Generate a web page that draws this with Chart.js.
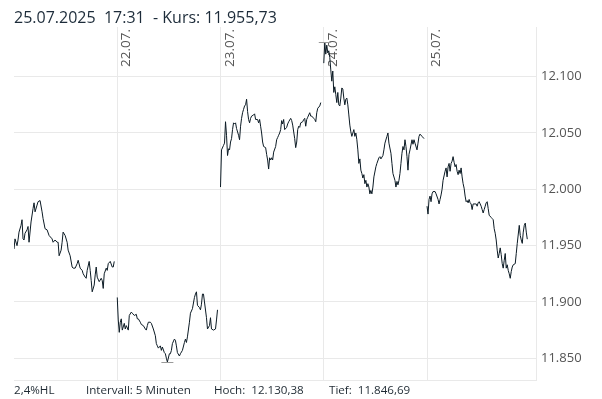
<!DOCTYPE html>
<html>
<head>
<meta charset="utf-8">
<script src="https://cdn.jsdelivr.net/npm/chart.js@4/dist/chart.umd.min.js"></script>
<style>
  html, body { margin: 0; padding: 0; background: #fff; }
  #wrap { position: relative; width: 602px; height: 399px; overflow: hidden; }
  #chart { position: absolute; left: 0; top: 0; }
  .txt { position: absolute; white-space: pre; font-family: "Open Sans", sans-serif; }
  #title { left: 14px; top: 7px; font-size: 16px; line-height: 20px; color: #1c2b39; }
  .foot { top: 383px; font-size: 11.6px; line-height: 14px; color: #1f2a33; }
</style>
</head>
<body>
<div id="wrap">
  <canvas id="chart" width="602" height="399"></canvas>
  <div id="title" class="txt"></div>
  <div id="f1" class="txt foot" style="left:14px"></div>
  <div id="f2" class="txt foot" style="left:86px"></div>
  <div id="f3" class="txt foot" style="left:214px"></div>
  <div id="f4" class="txt foot" style="left:329px"></div>
</div>
<script>
// header / footer values
const datum = "25.07.2025";
const zeit = "17:31";
const kurs = 11955.73;
const hoch = 12130.38;
const tief = 11846.69;
const spanne = "2,4%HL";
const intervall = "Intervall: 5 Minuten";

// day labels (one trading day = 103 five-minute bars on the axis)
const dayLabels = ["21.07.", "22.07.", "23.07.", "24.07.", "25.07."];
const barsPerDay = 103;
const yTicks = [11850, 11900, 11950, 12000, 12050, 12100];
const yMin = 11830.7;
const yMax = 12144.1;

// [bar within day, value]
const day1 = [[0,11947],[1,11956],[3,11950],[4,11955],[5,11962],[7,11968],[8,11973],[9,11956],[10,11955],
  [11,11961],[13,11964],[14,11967],[15,11953],[17,11971],[19,11983],[20,11988],[21,11980],[23,11986],
  [24,11989],[26,11990],[28,11980],[29,11974],[31,11965],[33,11964],[35,11959],[38,11956],[39,11953],
  [41,11955],[43,11953],[44,11953],[45,11941],[47,11946],[48,11953],[49,11962],[51,11959],[53,11953],
  [54,11946],[56,11941],[58,11931],[59,11930],[61,11930],[63,11934],[64,11937],[66,11930],[68,11928],
  [69,11925],[71,11922],[72,11921],[73,11928],[75,11936],[76,11928],[77,11919],[78,11909],[80,11915],
  [81,11924],[82,11931],[83,11922],[85,11918],[87,11921],[88,11919],[89,11912],[90,11925],[92,11930],
  [93,11928],[94,11934],[96,11936],[98,11931],[99,11931],[100,11936]];

const day2 = [[0,11904],[1,11884],[2,11873],[3,11882],[4,11885],[5,11875],[7,11881],[8,11876],[9,11879],
  [11,11875],[12,11888],[14,11891],[15,11890],[17,11888],[19,11889],[20,11885],[21,11885],[23,11882],
  [24,11880],[26,11879],[28,11876],[29,11875],[30,11879],[31,11882],[33,11882],[34,11881],[36,11876],
  [38,11870],[39,11863],[40,11861],[41,11859],[43,11861],[44,11857],[45,11860],[47,11855],[48,11854],
  [49,11850],[50,11846.69],[52,11854],[53,11854],[54,11857],[55,11863],[57,11867],[58,11866],[59,11861],
  [60,11855],[62,11852],[63,11854],[65,11857],[67,11864],[68,11867],[69,11864],[70,11869],[72,11882],
  [73,11890],[75,11894],[77,11904],[78,11907],[79,11909],[80,11897],[82,11895],[83,11893],[84,11898],
  [85,11907],[86,11907],[87,11900],[89,11886],[90,11876],[92,11879],[93,11886],[94,11876],[96,11875],
  [98,11876],[99,11884],[100,11893]];

const day3 = [[0,12002],[1,12035],[3,12039],[4,12041],[5,12060],[6,12048],[7,12030],[8,12036],[9,12035],
  [10,12042],[11,12045],[12,12053],[13,12059],[14,12058],[15,12059],[16,12054],[18,12048],[19,12044],
  [20,12056],[21,12063],[22,12068],[23,12071],[24,12074],[25,12075],[26,12080],[27,12069],[28,12062],
  [29,12059],[30,12063],[31,12065],[33,12066],[34,12067],[35,12062],[37,12062],[38,12059],[39,12062],
  [40,12056],[41,12050],[42,12042],[43,12038],[45,12037],[46,12031],[47,12026],[48,12018],[49,12028],
  [50,12026],[51,12028],[52,12026],[53,12033],[55,12038],[56,12044],[57,12046],[58,12048],[59,12050],
  [60,12053],[61,12061],[62,12058],[63,12062],[64,12053],[66,12055],[67,12058],[68,12060],[70,12063],
  [71,12061],[72,12057],[74,12045],[75,12037],[76,12042],[77,12053],[78,12056],[79,12055],[80,12059],
  [82,12060],[83,12062],[84,12063],[85,12056],[86,12062],[87,12064],[89,12068],[90,12065],[91,12065],
  [93,12063],[94,12062],[95,12060],[96,12068],[97,12072],[99,12074],[100,12077]];

const day4 = [[0,12112],[1,12130.38],[2,12120],[3,12128],[4,12121],[5,12123],[6,12117],[7,12106],[8,12096],
  [9,12105],[10,12086],[11,12091],[12,12084],[13,12077],[14,12086],[15,12075],[16,12074],[17,12081],
  [18,12090],[19,12089],[20,12081],[21,12075],[22,12080],[23,12081],[24,12075],[25,12066],[26,12057],
  [27,12051],[28,12047],[29,12050],[30,12053],[31,12047],[32,12050],[33,12044],[34,12035],[35,12023],
  [36,12027],[37,12017],[38,12014],[39,12010],[40,12013],[41,12005],[42,12008],[43,12002],[44,12005],
  [45,12002],[46,11996],[47,11999],[48,11996],[49,12002],[50,12011],[52,12020],[53,12023],[55,12028],
  [56,12029],[57,12027],[59,12030],[60,12035],[61,12041],[63,12047],[64,12050],[65,12041],[67,12032],
  [68,12023],[69,12014],[71,12008],[72,12002],[73,12007],[74,12004],[75,12008],[76,12014],[77,12023],
  [78,12032],[79,12038],[80,12035],[81,12044],[82,12038],[83,12029],[84,12017],[85,12031],[86,12035],
  [88,12044],[89,12040],[90,12044],[91,12041],[93,12035],[94,12041],[95,12047],[96,12049],[98,12047],
  [100,12045]];

const day5 = [[0,11985],[1,11978],[2,11991],[3,11994],[4,11989],[5,11996],[6,11998],[8,11998],[9,11996],
  [11,11991],[12,11987],[13,11991],[14,11995],[15,12000],[16,12008],[18,12016],[19,12019],[20,12011],
  [21,12020],[22,12023],[23,12016],[24,12023],[25,12025],[26,12029],[27,12024],[28,12020],[29,12022],
  [30,12016],[31,12013],[32,12017],[33,12014],[34,12019],[35,12011],[36,12005],[37,12001],[38,11994],
  [39,11989],[40,11990],[41,11988],[42,11991],[43,11988],[44,11987],[45,11982],[46,11987],[48,11987],
  [49,11987],[50,11985],[51,11988],[52,11989],[53,11987],[54,11985],[55,11982],[56,11979],[57,11982],
  [58,11985],[59,11988],[60,11989],[61,11983],[62,11977],[64,11975],[65,11974],[66,11973],[67,11965],
  [68,11961],[69,11955],[70,11946],[71,11939],[72,11943],[73,11948],[74,11942],[75,11934],[76,11930],
  [77,11937],[78,11943],[79,11930],[80,11933],[81,11928],[82,11925],[83,11921],[84,11927],[85,11931],
  [86,11933],[88,11934],[89,11943],[90,11952],[92,11968],[93,11959],[94,11955],[95,11952],[96,11962],
  [97,11968],[98,11970],[99,11962],[100,11955.73]];

const days = [day1, day2, day3, day4, day5];

function thousands(s) {
  return s.replace(/\B(?=(\d{3})+(?!\d))/g, ".");
}
function fmtDE(v) {
  const parts = v.toFixed(2).split(".");
  return thousands(parts[0]) + "," + parts[1];
}

document.getElementById("title").textContent = datum + "  " + zeit + "  - Kurs: " + fmtDE(kurs);
document.getElementById("f1").textContent = spanne;
document.getElementById("f2").textContent = intervall;
document.getElementById("f3").textContent = "Hoch:  " + fmtDE(hoch);
document.getElementById("f4").textContent = "Tief:  " + fmtDE(tief);

const LINE = "#0b1a24";
const GRID = "#e9e9e9";

// day labels at the top, rotated, right of each day line
const dayLabelPlugin = {
  id: "dayLabels",
  beforeDatasetsDraw(chart) {
    const ctx = chart.ctx;
    const xs = chart.scales.x;
    ctx.save();
    ctx.fillStyle = "#555";
    ctx.font = "13.5px 'Open Sans'";
    ctx.textAlign = "left";
    ctx.textBaseline = "alphabetic";
    for (let d = 1; d < dayLabels.length; d++) {
      const px = xs.getPixelForValue(d * barsPerDay);
      ctx.save();
      ctx.translate(Math.round(px) + 13, 67);
      ctx.rotate(-Math.PI / 2);
      ctx.fillText(dayLabels[d], 0, 0);
      ctx.restore();
    }
    ctx.restore();
  }
};

// small grey marks at the day high and low
const hiLoPlugin = {
  id: "hiLo",
  afterDatasetsDraw(chart) {
    const ctx = chart.ctx;
    const xs = chart.scales.x, ys = chart.scales.y;
    let hi = null, lo = null;
    days.forEach((day, d) => day.forEach(([b, v]) => {
      if (!hi || v > hi.v) hi = { x: d * barsPerDay + b, v };
      if (!lo || v < lo.v) lo = { x: d * barsPerDay + b, v };
    }));
    ctx.save();
    ctx.strokeStyle = "#9a9a9a";
    ctx.lineWidth = 1;
    [[hi, hoch], [lo, tief]].forEach(([p, val]) => {
      const px = xs.getPixelForValue(p.x);
      const py = Math.round(ys.getPixelForValue(val)) + 0.5;
      ctx.beginPath();
      ctx.moveTo(px - 6, py);
      ctx.lineTo(px + 6, py);
      ctx.stroke();
    });
    ctx.restore();
  }
};

new Chart(document.getElementById("chart"), {
  type: "line",
  data: {
    datasets: days.map((day, d) => ({
      data: day.map(([b, v]) => ({ x: d * barsPerDay + b, y: v })),
      borderColor: LINE,
      borderWidth: 1,
      pointRadius: 0,
      tension: 0,
      fill: false
    }))
  },
  options: {
    responsive: false,
    animation: false,
    events: [],
    layout: { padding: { left: 14, top: 27, right: 0, bottom: 19 } },
    plugins: { legend: { display: false }, tooltip: { enabled: false } },
    scales: {
      x: {
        type: "linear",
        min: 0,
        max: 520.7,
        position: "bottom",
        afterBuildTicks: (s) => {
          s.ticks = dayLabels.slice(1).map((_, i) => ({ value: (i + 1) * barsPerDay }));
        },
        afterFit: (s) => { s.height = 0; },
        ticks: { display: false },
        grid: { color: GRID, drawTicks: false },
        border: { display: true, color: GRID }
      },
      y: {
        position: "right",
        min: yMin,
        max: yMax,
        afterBuildTicks: (s) => { s.ticks = yTicks.map((v) => ({ value: v })); },
        afterFit: (s) => { s.width = 66; },
        ticks: {
          color: "#555",
          padding: 5,
          font: { family: "'Open Sans'", size: 13 },
          callback: (v) => thousands(String(v))
        },
        grid: { color: GRID, drawTicks: false },
        border: { display: true, color: GRID }
      }
    }
  },
  plugins: [dayLabelPlugin, hiLoPlugin]
});
</script>
</body>
</html>
